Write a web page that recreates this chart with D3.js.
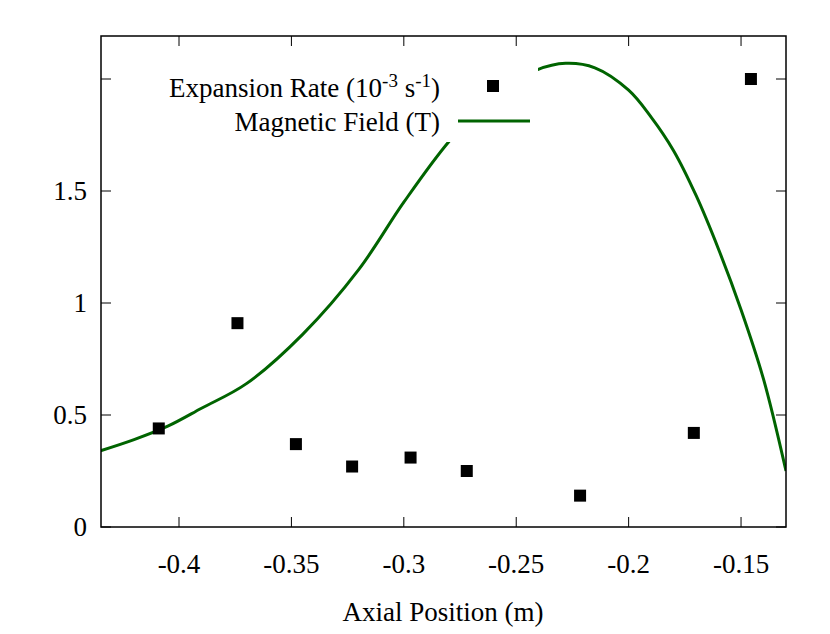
<!DOCTYPE html>
<html><head><meta charset="utf-8">
<script src="https://cdn.jsdelivr.net/npm/d3@7"></script>
<style>body{margin:0;background:#fff}text{font-family:"Liberation Serif",serif}</style>
</head><body><svg id="c" width="830" height="634"></svg>
<script>
const xTicks=[-0.4,-0.35,-0.3,-0.25,-0.2,-0.15];
const xLabels=["-0.4","-0.35","-0.3","-0.25","-0.2","-0.15"];
const yTicks=[0,0.5,1,1.5,2];
const yLabels=["0","0.5","1","1.5",""];
const rateX=[-0.409,-0.374,-0.348,-0.323,-0.297,-0.272,-0.2216,-0.171,-0.1456];
const rateY=[0.44,0.91,0.37,0.27,0.31,0.25,0.14,0.42,2.0];
const fieldX=[-0.435,-0.42,-0.405,-0.39,-0.37,-0.345,-0.32,-0.3,-0.28,-0.26,-0.241,-0.228,-0.215,-0.2,-0.19,-0.18,-0.17,-0.16,-0.15,-0.14,-0.13];
const fieldY=[0.34,0.39,0.45,0.53,0.64,0.86,1.15,1.45,1.72,1.93,2.04,2.07,2.05,1.95,1.83,1.68,1.48,1.24,0.97,0.66,0.25];
const svg=d3.select("#c");
const L=101,R=786,T=36,B=527;
const x=d3.scaleLinear().domain([-0.4347,-0.13]).range([L,R]);
const y=d3.scaleLinear().domain([0,2.192]).range([B,T]);
svg.append("clipPath").attr("id","cl").append("rect").attr("x",L).attr("y",T).attr("width",R-L).attr("height",B-T);
svg.append("path").datum(fieldX.map((v,i)=>[v,fieldY[i]])).attr("clip-path","url(#cl)")
 .attr("d",d3.line().x(d=>x(d[0])).y(d=>y(d[1])).curve(d3.curveCatmullRom))
 .attr("fill","none").attr("stroke","#006400").attr("stroke-width",3);
svg.selectAll(".pt").data(rateX).join("rect").attr("x",(d)=>x(d)-6).attr("y",(d,i)=>y(rateY[i])-6).attr("width",12).attr("height",12).attr("fill","#000");
// legend
svg.append("rect").attr("x",120).attr("y",64).attr("width",418).attr("height",78).attr("fill","#fff");
const lg=svg.append("g").attr("font-size",27);
const t1=lg.append("text").attr("x",440).attr("y",97).attr("text-anchor","end");
t1.append("tspan").text("Expansion Rate (10");
t1.append("tspan").attr("baseline-shift","super").attr("font-size",19).text("-3");
t1.append("tspan").text(" s");
t1.append("tspan").attr("baseline-shift","super").attr("font-size",19).text("-1");
t1.append("tspan").text(")");
lg.append("text").attr("x",440).attr("y",131).attr("text-anchor","end").text("Magnetic Field (T)");
svg.append("rect").attr("x",487).attr("y",80).attr("width",12).attr("height",12).attr("fill","#000");
svg.append("line").attr("x1",458).attr("x2",530).attr("y1",121).attr("y2",121).attr("stroke","#006400").attr("stroke-width",3);
// frame and ticks
svg.append("rect").attr("x",L).attr("y",T).attr("width",R-L).attr("height",B-T).attr("fill","none").attr("stroke","#000").attr("stroke-width",1.5);
const g=svg.append("g").attr("font-size",27);
xTicks.forEach((v,i)=>{const px=x(v);
 g.append("line").attr("x1",px).attr("x2",px).attr("y1",B).attr("y2",B-10).attr("stroke","#000");
 g.append("line").attr("x1",px).attr("x2",px).attr("y1",T).attr("y2",T+10).attr("stroke","#000");
 g.append("text").attr("x",px).attr("y",B+46).attr("text-anchor","middle").text(xLabels[i]);});
yTicks.forEach((v,i)=>{const py=y(v);
 g.append("line").attr("x1",L).attr("x2",L+10).attr("y1",py).attr("y2",py).attr("stroke","#000");
 g.append("line").attr("x1",R).attr("x2",R-10).attr("y1",py).attr("y2",py).attr("stroke","#000");
 g.append("text").attr("x",L-14).attr("y",py+9).attr("text-anchor","end").text(yLabels[i]);});
g.append("text").attr("x",443).attr("y",621).attr("text-anchor","middle").text("Axial Position (m)");
</script></body></html>
